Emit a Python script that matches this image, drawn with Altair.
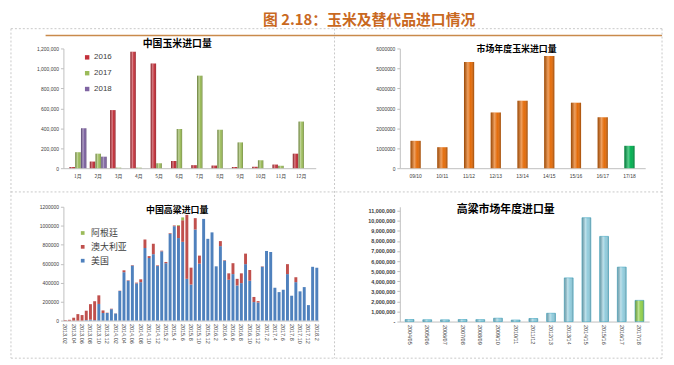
import altair as alt
import pandas as pd

# ---------------- texts ----------------
TITLE = "图 2.18：玉米及替代品进口情况"
TITLE_TL = "中国玉米进口量"
TITLE_TR = "市场年度玉米进口量"
TITLE_BL = "中国高粱进口量"
TITLE_BR = "高粱市场年度进口量"

# ---------------- data: 中国玉米进口量 (monthly, tonnes) ----------------
corn_months = ["1月", "2月", "3月", "4月", "5月", "6月", "7月", "8月", "9月", "10月", "11月", "12月"]
corn_years = ["2016", "2017", "2018"]
corn_2016 = [12000, 66000, 582000, 1167000, 1049000, 72000, 30000, 26000, 12000, 14000, 36000, 145000]
corn_2017 = [160000, 145000, 5000, 5000, 49000, 393000, 927000, 385000, 258000, 79000, 24000, 467000]
corn_2018 = [400000, 115000]

# ---------------- data: 市场年度玉米进口量 ----------------
corn_seasons = ["09/10", "10/11", "11/12", "12/13", "13/14", "14/15", "15/16", "16/17", "17/18"]
corn_season_imports = [1370000, 1050000, 5320000, 2790000, 3380000, 5620000, 3280000, 2550000, 1120000]

# ---------------- data: 中国高粱进口量 (monthly, by origin) ----------------
sorg_months = [
    "2013.02", "2013.03", "2013.04", "2013.05", "2013.06", "2013.07", "2013.08", "2013.09", "2013.10", "2013.11",
    "2013.12", "2014.01", "2014.02", "2014.03", "2014.04", "2014.05", "2014.06", "2014.07", "2014.08", "2014.09",
    "2014.10", "2014.11", "2014.12", "2015.1", "2015.2", "2015.3", "2015.4", "2015.5", "2015.6", "2015.7",
    "2015.8", "2015.9", "2015.10", "2015.11", "2015.12", "2016.1", "2016.2", "2016.3", "2016.4", "2016.5",
    "2016.6", "2016.7", "2016.8", "2016.9", "2016.10", "2016.11", "2016.12", "2017.1", "2017.2", "2017.3",
    "2017.4", "2017.5", "2017.6", "2017.7", "2017.8", "2017.9", "2017.10", "2017.11", "2017.12", "2018.1",
    "2018.2",
]
sorg_usa = [
    0, 0, 0, 0, 0, 5000, 10000, 5000, 175000, 80000,
    80000, 120000, 74000, 312000, 510000, 420000, 580000, 392000, 405000, 765000,
    660000, 700000, 575000, 730000, 605000, 915000, 995000, 870000, 830000, 440000,
    380000, 960000, 600000, 1072000, 862000, 930000, 572000, 785000, 632000, 430000,
    490000, 370000, 395000, 595000, 420000, 195000, 190000, 568000, 734000, 723000,
    346000, 300000, 325000, 490000, 262000, 405000, 308000, 353000, 163000, 567000,
    557000,
]
sorg_aus = [
    5000, 8000, 30000, 68000, 58000, 99000, 163000, 199000, 91000, 27000,
    3000, 5000, 2000, 3000, 20000, 5000, 5000, 8000, 30000, 90000,
    20000, 110000, 7000, 7000, 13000, 7000, 8000, 130000, 228000, 675000,
    178000, 120000, 85000, 0, 0, 0, 0, 53000, 5000, 68000,
    115000, 70000, 103000, 111000, 113000, 54000, 15000, 4000, 0, 0,
    0, 0, 0, 105000, 0, 52000, 0, 0, 0, 0,
    0,
]
sorg_arg = [
    0, 0, 0, 0, 0, 0, 0, 0, 0, 0,
    0, 0, 0, 0, 0, 0, 0, 0, 0, 0,
    0, 0, 0, 0, 0, 0, 0, 8000, 30000, 0,
    0, 0, 0, 0, 0, 0, 0, 0, 0, 0,
    0, 0, 0, 0, 0, 0, 0, 0, 0, 0,
    0, 0, 0, 0, 0, 0, 0, 0, 0, 0,
    0,
]
sorg_origins = ["阿根廷", "澳大利亚", "美国"]

# ---------------- data: 高粱市场年度进口量 ----------------
sorg_seasons = ["2004/05", "2005/06", "2006/07", "2007/08", "2008/09", "2009/10", "2010/11",
                "2011/12", "2012/13", "2013/14", "2014/15", "2015/16", "2016/17", "2017/18"]
sorg_season_imports = [200000, 180000, 170000, 200000, 190000, 330000, 150000,
                       300000, 820000, 4330000, 10300000, 8450000, 5400000, 2100000]

# ---------------- style helpers ----------------
CJK = "Noto Sans CJK SC"
LAT = "Liberation Sans"
AX = "#404040"
LINE = "#BFBFBF"


def cyl(dark=0.3, light=0.4):
    return alt.Gradient(
        gradient="linear", x1=0, x2=1, y1=0, y2=0,
        stops=[
            alt.GradientStop(color=f"rgba(0,0,0,{dark})", offset=0),
            alt.GradientStop(color=f"rgba(255,255,255,{light})", offset=0.38),
            alt.GradientStop(color="rgba(255,255,255,0)", offset=0.65),
            alt.GradientStop(color=f"rgba(0,0,0,{dark})", offset=1),
        ],
    )


def hrule(x, x2, y, color="#C8C8C8", width=1, dash=True):
    kw = dict(color=color, strokeWidth=width)
    if dash:
        kw["strokeDash"] = [2, 2]
    return alt.Chart(alt.Data(values=[{"k": 1}])).mark_rule(**kw).encode(
        x=alt.value(x), x2=alt.value(x2), y=alt.value(y))


def vrule(x, y, y2, color="#C8C8C8", width=1):
    return alt.Chart(alt.Data(values=[{"k": 1}])).mark_rule(
        color=color, strokeWidth=width, strokeDash=[2, 2]).encode(
        x=alt.value(x), y=alt.value(y), y2=alt.value(y2))


def label(text, x, y, size, color="#000000", baseline="middle"):
    return alt.Chart(alt.Data(values=[{"t": text}])).mark_text(
        font=CJK, fontSize=size, fontWeight="bold", color=color,
        baseline=baseline, align="center").encode(
        x=alt.value(x), y=alt.value(y), text="t:N")


def yaxis(values, fmt=None, expr=None, size=5, bold=False):
    kw = dict(values=values, labelFontSize=size, labelColor=AX, grid=False,
              domainColor=LINE, tickColor=LINE, tickSize=3, labelPadding=2,
              labelFont=LAT)
    if fmt:
        kw["format"] = fmt
    if expr:
        kw["labelExpr"] = expr
    if bold:
        kw["labelFontWeight"] = "bold"
    return alt.Axis(**kw)


# ---------------- panel 1: 中国玉米进口量 ----------------
tl_rows = []
for yr, vals in zip(corn_years, [corn_2016, corn_2017, corn_2018]):
    for m, v in zip(corn_months, vals):
        tl_rows.append({"month": m, "year": yr, "value": v})
tl_df = pd.DataFrame(tl_rows)

tl_enc = dict(
    x=alt.X("month:N", sort=corn_months, title=None,
            scale=alt.Scale(paddingInner=0.17, paddingOuter=0.3),
            axis=alt.Axis(labelAngle=0, labelFontSize=5, labelColor=AX, ticks=False,
                          domainColor=LINE, labelPadding=5, labelFont=CJK)),
    xOffset=alt.XOffset("year:N", sort=corn_years,
                        scale=alt.Scale(domain=corn_years, paddingInner=0.06)),
    y=alt.Y("value:Q", title=None, scale=alt.Scale(domain=[0, 1200000], nice=False),
            axis=yaxis([0, 200000, 400000, 600000, 800000, 1000000, 1200000], fmt=",d")),
)
tl_bars = alt.Chart(tl_df).mark_bar().encode(
    **tl_enc,
    color=alt.Color("year:N", sort=corn_years,
                    scale=alt.Scale(domain=corn_years, range=["#C3303A", "#9BBB59", "#7F64A2"]),
                    legend=alt.Legend(title=None, orient="none", legendX=20, legendY=5,
                                      symbolType="square", symbolSize=20, symbolStrokeWidth=0,
                                      labelFontSize=8, labelColor=AX, rowPadding=8,
                                      labelOffset=3, labelFont=LAT)),
)
tl_shade = alt.Chart(tl_df).mark_bar(fill=cyl()).encode(**tl_enc)

decor = [
    hrule(-53, 605, -38, color="#FFFFFF", dash=False),   # invisible top margin keeper
    hrule(-53, 605, -20),
    hrule(-18, 605, -13, color="#C98A4B", width=1.5, dash=False),
    vrule(274, -20, 313),
    vrule(605, -20, 313),
    vrule(-53, -20, 313),
    hrule(-53, 605, 145),
    hrule(-53, 605, 313),
    label(TITLE, 309, -36, 15, color="#C9691F", baseline="top"),
    label(TITLE_TL, 115, -4, 10),
]
tl = alt.layer(tl_bars, tl_shade, *decor).properties(width=255, height=121)

# ---------------- panel 2: 市场年度玉米进口量 ----------------
tr_df = pd.DataFrame({
    "season": corn_seasons,
    "value": corn_season_imports,
    "kind": ["本年度" if s == corn_seasons[-1] else "往年" for s in corn_seasons],
})
tr_enc = dict(
    x=alt.X("season:N", sort=corn_seasons, title=None,
            scale=alt.Scale(paddingInner=0.62, paddingOuter=0.4),
            axis=alt.Axis(labelAngle=0, labelFontSize=5, labelColor=AX, ticks=False,
                          domainColor=LINE, labelPadding=5, labelFont=LAT)),
    y=alt.Y("value:Q", title=None, scale=alt.Scale(domain=[0, 6000000], nice=False),
            axis=yaxis([0, 1000000, 2000000, 3000000, 4000000, 5000000, 6000000], fmt="d")),
)
tr_bars = alt.Chart(tr_df).mark_bar().encode(
    **tr_enc,
    color=alt.Color("kind:N", scale=alt.Scale(domain=["往年", "本年度"], range=["#E46C0A", "#00B050"]),
                    legend=None),
)
tr_shade = alt.Chart(tr_df).mark_bar(fill=cyl(0.32, 0.35)).encode(**tr_enc)
tr = alt.layer(tr_bars, tr_shade, label(TITLE_TR, 118, 1, 9)).properties(width=248, height=121)

# ---------------- panel 3: 中国高粱进口量 ----------------
bl_rows = []
order_of = {"美国": 0, "澳大利亚": 1, "阿根廷": 2}
for origin, vals in zip(["美国", "澳大利亚", "阿根廷"], [sorg_usa, sorg_aus, sorg_arg]):
    for m, v in zip(sorg_months, vals):
        bl_rows.append({"month": m, "origin": origin, "value": v, "ord": order_of[origin]})
bl_df = pd.DataFrame(bl_rows)

bl_bars = alt.Chart(bl_df).mark_bar().encode(
    x=alt.X("month:N", sort=sorg_months, title=None,
            scale=alt.Scale(paddingInner=0.3, paddingOuter=0.1, range=[0, 258]),
            axis=alt.Axis(values=sorg_months[::2], labelAngle=90, labelFontSize=5.5,
                          labelColor=AX, ticks=False, domainColor=LINE, labelPadding=3,
                          labelFont=LAT)),
    y=alt.Y("value:Q", title=None, stack=True,
            scale=alt.Scale(domain=[0, 1200000], nice=False),
            axis=yaxis([0, 200000, 400000, 600000, 800000, 1000000, 1200000], fmt="d")),
    color=alt.Color("origin:N",
                    scale=alt.Scale(domain=sorg_origins, range=["#9BBB59", "#C0504D", "#4F81BD"]),
                    legend=alt.Legend(title=None, orient="none", legendX=15, legendY=22,
                                      symbolType="square", symbolSize=14, symbolStrokeWidth=0,
                                      labelFontSize=9, labelColor=AX, rowPadding=4,
                                      labelOffset=4, labelFont=CJK)),
    order=alt.Order("ord:Q", sort="ascending"),
)
bl = alt.layer(bl_bars, label(TITLE_BL, 115, 3, 9)).properties(width=264, height=115)

# ---------------- panel 4: 高粱市场年度进口量 ----------------
br_df = pd.DataFrame({
    "season": sorg_seasons,
    "value": sorg_season_imports,
    "kind": ["本年度" if s == sorg_seasons[-1] else "往年" for s in sorg_seasons],
})
br_enc = dict(
    x=alt.X("season:N", sort=sorg_seasons, title=None,
            scale=alt.Scale(paddingInner=0.5, paddingOuter=0.3),
            axis=alt.Axis(labelAngle=90, labelFontSize=5.5, labelColor=AX, ticks=False,
                          domainColor=LINE, labelPadding=3, labelFont=LAT)),
    y=alt.Y("value:Q", title=None, scale=alt.Scale(domain=[0, 11390000], nice=False),
            axis=yaxis([0, 1000000, 2000000, 3000000, 4000000, 5000000, 6000000,
                        7000000, 8000000, 9000000, 10000000, 11000000],
                       expr="datum.value == 0 ? '-' : format(datum.value, ',d')",
                       size=5.5, bold=True)),
)
br_bars = alt.Chart(br_df).mark_bar(stroke="#4BACC6", strokeWidth=0.7).encode(
    **br_enc,
    color=alt.Color("kind:N", scale=alt.Scale(domain=["往年", "本年度"], range=["#93CDDD", "#92D050"]),
                    legend=None),
)
br_shade = alt.Chart(br_df).mark_bar(fill=cyl(0.18, 0.4)).encode(**br_enc)
br = alt.layer(br_bars, br_shade, label(TITLE_BR, 107, 3, 11)).properties(width=252, height=116)

# ---------------- layout ----------------
chart = (
    alt.concat(tl, tr, bl, br, columns=2, align="none", bounds="flush",
               spacing=alt.RowColnumber(row=39, column=76))
    .resolve_scale(color="independent", x="independent", y="independent")
    .properties(padding={"left": 2, "top": 0, "right": 2, "bottom": 2}, background="white")
    .configure_view(stroke="transparent")
    .configure_axis(labelFont=LAT)
)

chart.save("out.html", embed_options={"renderer": "svg", "actions": False})
